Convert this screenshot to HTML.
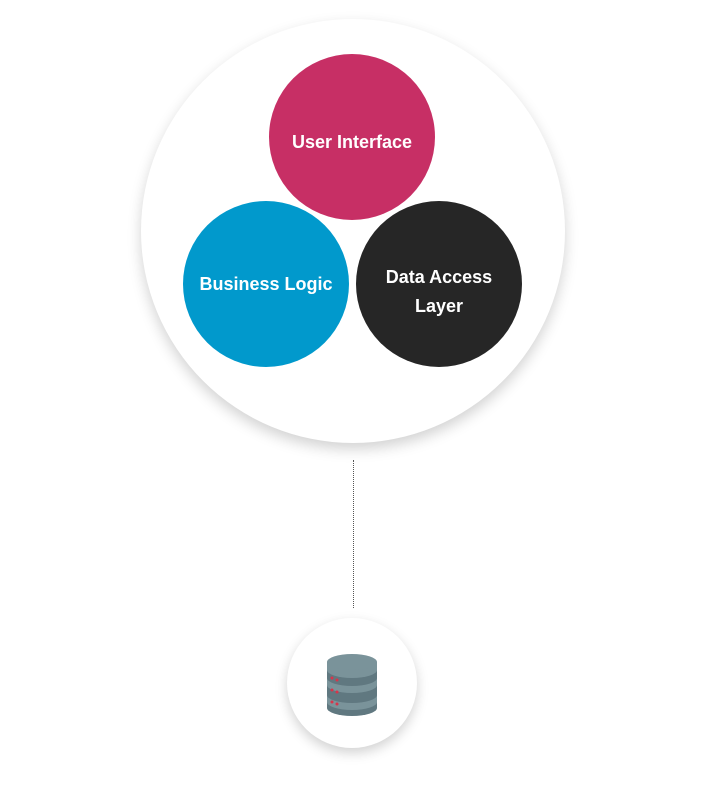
<!DOCTYPE html>
<html><head><style>
body{margin:0;background:#fff;width:715px;height:800px;overflow:hidden;position:relative;font-family:"Liberation Sans",sans-serif}
.c{position:absolute;border-radius:50%;display:flex;align-items:center;justify-content:center;text-align:center;color:#fff;font-weight:bold;font-size:18px;line-height:29px}
</style></head><body>
<div class="c" style="left:141px;top:19px;width:424px;height:424px;background:#fff;box-shadow:0 6px 14px rgba(0,0,0,0.18)"></div>
<div class="c" style="left:269px;top:54px;width:166px;height:166px;background:#c72f65"><span style="position:relative;top:5px">User Interface</span></div>
<div class="c" style="left:183px;top:201px;width:166px;height:166px;background:#0199cc">Business Logic</div>
<div class="c" style="left:356px;top:201px;width:166px;height:166px;background:#262626"><span style="position:relative;top:8px">Data Access<br>Layer</span></div>
<div style="position:absolute;left:353px;top:460px;height:148px;border-left:1px dotted #555"></div>
<div class="c" style="left:287px;top:618px;width:130px;height:130px;background:#fff;box-shadow:0 5px 12px rgba(0,0,0,0.18)"></div>
<svg style="position:absolute;left:320px;top:650px" width="66" height="68" viewBox="0 0 66 68">
<path d="M7 12 V58 A25 8 0 0 0 57 58 V12 Z" fill="#607880"/>
<path d="M7 28 A25 8 0 0 0 57 28 V35 A25 8 0 0 1 7 35Z" fill="#7a939a"/>
<path d="M7 45 A25 8 0 0 0 57 45 V52 A25 8 0 0 1 7 52Z" fill="#7a939a"/>
<path d="M7 12 V20 A25 8 0 0 0 57 20 V12Z" fill="#7a939a"/>
<ellipse cx="32" cy="12" rx="25" ry="8" fill="#7a939a"/>
<g fill="#d8344a"><circle cx="12" cy="28" r="1.5"/><circle cx="17" cy="30" r="1.5"/><circle cx="12" cy="40" r="1.5"/><circle cx="17" cy="42" r="1.5"/><circle cx="12" cy="52" r="1.5"/><circle cx="17" cy="54" r="1.5"/></g>
</svg>
</body></html>
